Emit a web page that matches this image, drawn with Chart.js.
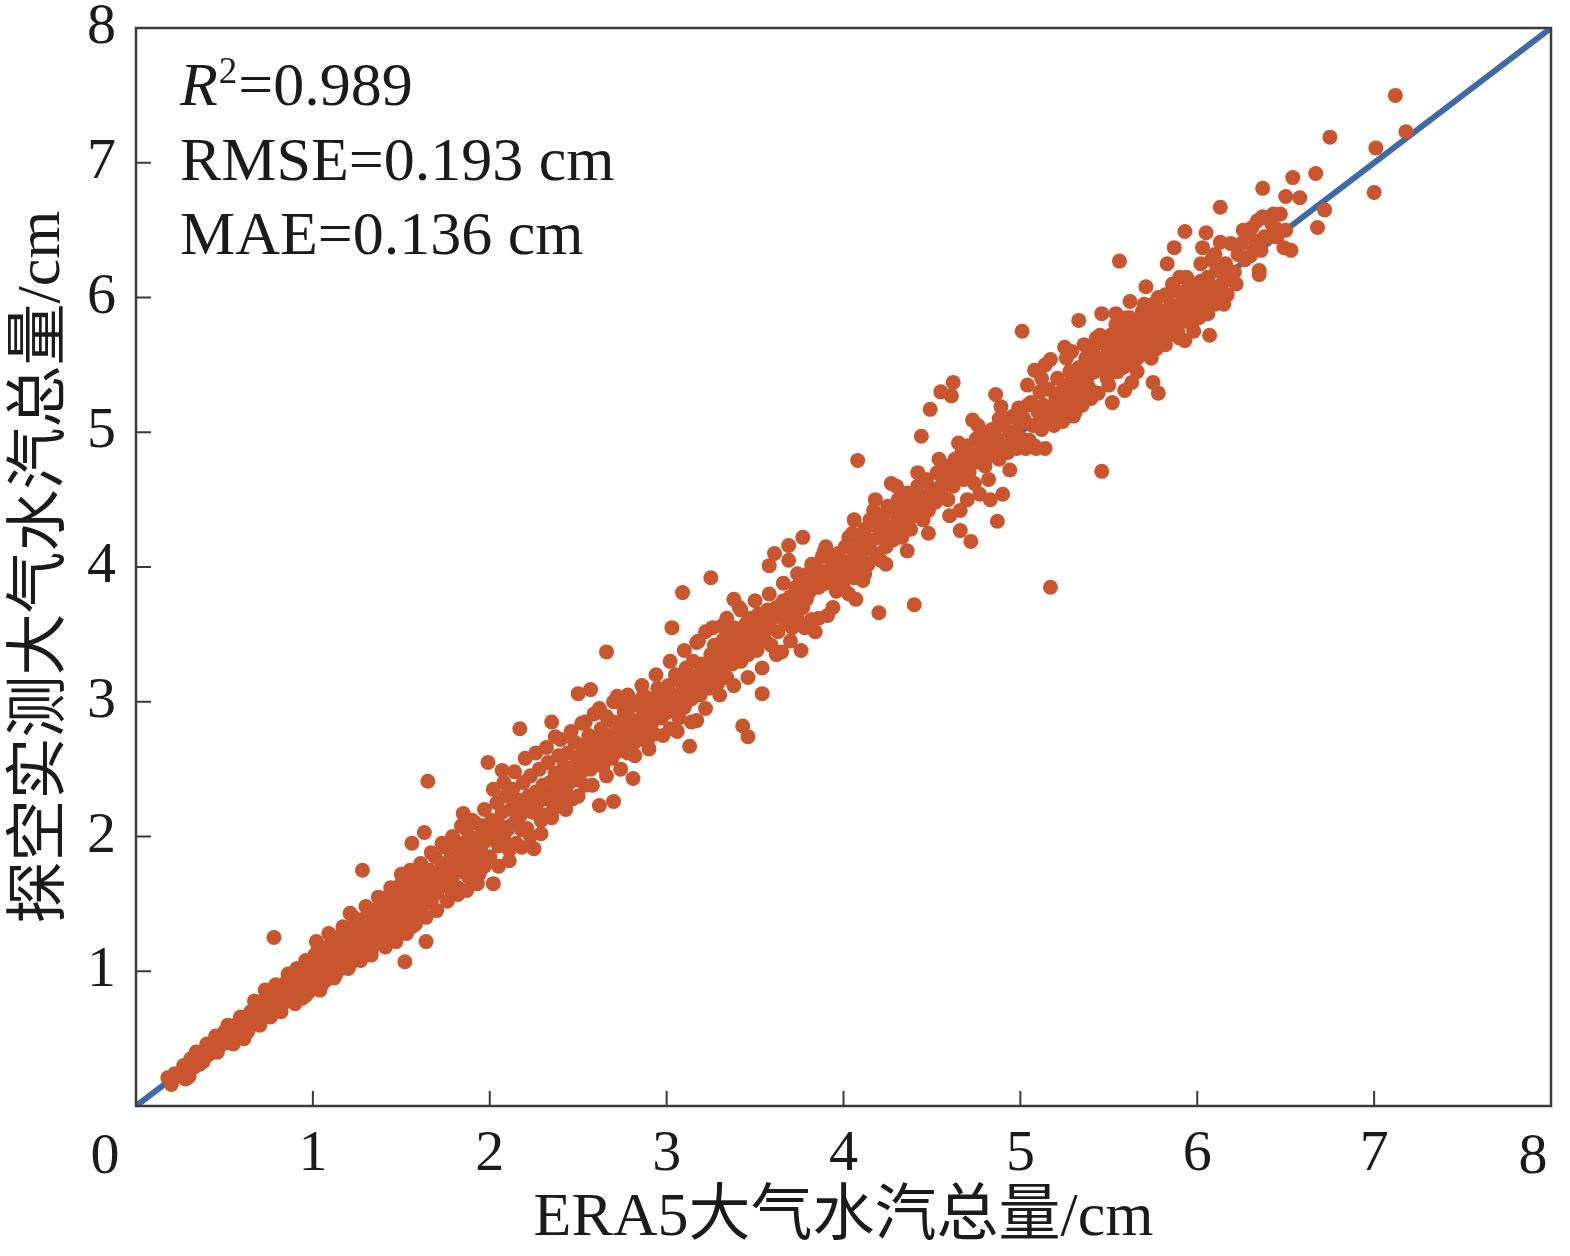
<!DOCTYPE html>
<html>
<head>
<meta charset="utf-8">
<script src="https://cdn.jsdelivr.net/npm/chart.js@4.4.1/dist/chart.umd.min.js"></script>
<style>
html,body{margin:0;padding:0;background:#fff;}
#c{display:block;}
</style>
</head>
<body>
<canvas id="c" width="1570" height="1256"></canvas>
<script>
// ---- axis / tick labels ----
const xTitle = 'ERA5大气水汽总量/cm';
const yTitle = '探空实测大气水汽总量/cm';
const tickValues = [0, 1, 2, 3, 4, 5, 6, 7, 8];
const statLines = ['=0.989', 'RMSE=0.193 cm', 'MAE=0.136 cm'];
const oneToOne = [[0, 0], [8, 8]];

// ---- observations [ERA5, radiosonde] in cm, grouped by ERA5 range ----
const seg0to1 = [[0.18,0.21],[0.2,0.16],[0.22,0.24],[0.25,0.22],[0.27,0.3],[0.28,0.2],[0.3,0.27],[0.31,0.35],[0.33,0.29],[0.35,0.37],[0.36,0.31],[0.38,0.33],[0.39,0.41],[0.41,0.38],[0.42,0.45],[0.44,0.4],[0.45,0.52],[0.47,0.44],[0.48,0.49],[0.5,0.55],[0.51,0.47],[0.53,0.57],[0.54,0.5],[0.56,0.6],[0.57,0.53],[0.58,0.56],[0.6,0.62],[0.61,0.5],[0.62,0.66],[0.64,0.58],[0.65,0.7],[0.66,0.63],[0.68,0.74],[0.69,0.66],[0.7,0.6],[0.72,0.78],[0.72,0.69],[0.74,0.83],[0.75,0.72],[0.76,0.66],[0.78,1.25],[0.78,0.8],[0.8,0.75],[0.81,0.86],[0.82,0.7],[0.84,0.82],[0.85,0.92],[0.86,0.78],[0.87,0.88],[0.88,0.95],[0.9,0.84],[0.9,0.76],[0.92,0.9],[0.93,1.0],[0.94,0.86],[0.95,0.94],[0.96,0.82],[0.97,1.02],[0.98,0.91],[0.99,0.97],
  [0.3,0.22],[0.34,0.4],[0.4,0.46],[0.46,0.4],[0.52,0.6],[0.55,0.46],[0.59,0.66],[0.63,0.55],[0.67,0.78],[0.71,0.64],[0.73,0.86],[0.77,0.7],[0.79,0.9],[0.83,0.76],[0.86,0.98],[0.89,0.8],[0.91,1.02],[0.94,0.8],[0.96,1.08],[0.98,0.85]];
const seg1to2 = [[1.0,1.05],[1.0,0.9],[1.01,1.12],[1.02,0.97],[1.03,1.18],[1.04,0.86],[1.05,1.0],[1.06,1.08],[1.07,0.93],[1.08,1.15],[1.09,1.03],[1.1,0.98],[1.1,1.2],[1.11,1.1],[1.12,0.95],[1.13,1.06],[1.14,1.25],[1.15,1.13],[1.16,1.02],[1.17,1.19],[1.18,1.09],[1.19,1.3],[1.2,1.16],[1.21,1.43],[1.21,1.05],[1.22,1.24],[1.23,1.12],[1.24,1.35],[1.25,1.2],[1.26,1.1],[1.27,1.28],[1.28,1.75],[1.28,1.38],[1.29,1.18],[1.3,1.31],[1.31,1.24],[1.32,1.45],[1.33,1.15],[1.34,1.36],[1.34,1.19],[1.35,1.29],[1.36,1.42],[1.37,1.25],[1.38,1.5],[1.39,1.33],[1.4,1.22],[1.41,1.4],[1.42,1.55],[1.43,1.3],[1.44,1.46],[1.45,1.37],[1.46,1.6],[1.47,1.26],[1.48,1.43],[1.49,1.52],[1.5,1.35],[1.5,1.65],[1.51,1.45],[1.52,1.07],[1.52,1.56],[1.53,1.4],[1.54,1.5],[1.55,1.62],[1.56,1.95],[1.56,1.33],[1.57,1.47],[1.58,1.58],[1.59,1.7],[1.6,1.44],[1.61,1.55],[1.62,1.65],[1.63,2.03],[1.63,1.5],[1.64,1.22],[1.65,2.41],[1.65,1.6],[1.66,1.75],[1.67,1.52],[1.68,1.68],[1.69,1.85],[1.7,1.58],[1.71,1.72],[1.72,1.63],[1.73,1.8],[1.74,1.68],[1.75,1.92],[1.76,1.75],[1.77,1.62],[1.78,1.84],[1.79,1.7],[1.8,1.95],[1.81,1.78],[1.82,1.57],[1.83,1.88],[1.84,1.74],[1.85,2.17],[1.85,1.95],[1.86,1.82],[1.87,2.05],[1.88,1.7],[1.89,1.9],[1.9,1.8],[1.91,1.98],[1.92,2.1],[1.93,1.65],[1.93,1.86],[1.94,2.0],[1.95,1.92],[1.96,2.08],[1.97,1.78],[1.98,1.97],[1.99,2.55],[1.99,2.05],[1.12,1.17],[1.18,1.22],[1.24,1.27],[1.3,1.4],[1.36,1.33],[1.42,1.42],[1.46,1.5],[1.52,1.48],[1.58,1.52],[1.62,1.6],[1.66,1.64],[1.7,1.66],[1.74,1.78],[1.78,1.76],[1.82,1.85],[1.86,1.88],[1.9,1.92],[1.95,1.98],[1.4,1.48],[1.44,1.38],[1.48,1.58],[1.54,1.42],[1.6,1.62],[1.26,1.32],[1.32,1.28],[1.16,1.26],[1.08,1.06],[1.34,1.44],[1.57,1.68],[1.68,1.6],
  [1.02,1.22],[1.05,0.9],[1.09,1.28],[1.13,0.98],[1.17,1.33],[1.2,1.02],[1.23,1.4],[1.27,1.08],[1.3,1.48],[1.33,1.12],[1.37,1.55],[1.41,1.18],[1.44,1.62],[1.47,1.22],[1.5,1.72],[1.53,1.28],[1.55,1.75],[1.58,1.35],[1.61,1.8],[1.64,1.4],[1.67,1.88],[1.7,1.45],[1.73,1.95],[1.76,1.52],[1.79,2.0],[1.82,1.62],[1.84,2.08],[1.87,1.6],[1.9,2.12],[1.94,1.72],[1.97,2.2],[1.22,1.18],[1.28,1.22],[1.38,1.38],[1.45,1.45],[1.5,1.5],[1.55,1.55],[1.64,1.7],[1.72,1.72],[1.8,1.82]];
const seg2to3 = [[2.0,1.85],[2.01,2.12],[2.02,1.65],[2.03,2.0],[2.04,2.25],[2.05,1.93],[2.06,2.08],[2.07,2.49],[2.07,2.18],[2.08,1.98],[2.09,2.3],[2.1,2.05],[2.11,1.9],[2.12,2.2],[2.13,2.35],[2.14,2.1],[2.15,1.95],[2.16,2.27],[2.17,2.8],[2.17,2.15],[2.18,1.92],[2.19,2.4],[2.2,2.22],[2.21,2.06],[2.22,2.3],[2.23,2.45],[2.24,2.18],[2.25,1.91],[2.26,2.33],[2.27,2.25],[2.28,2.5],[2.29,2.12],[2.3,2.38],[2.31,2.16],[2.32,2.28],[2.33,2.55],[2.34,2.4],[2.35,2.85],[2.35,2.14],[2.36,2.3],[2.37,2.74],[2.37,2.47],[2.38,2.36],[2.39,2.6],[2.4,2.25],[2.41,2.44],[2.42,2.52],[2.43,2.33],[2.44,2.62],[2.45,2.4],[2.46,2.5],[2.47,2.28],[2.48,2.7],[2.49,2.55],[2.5,3.06],[2.5,2.42],[2.51,2.6],[2.52,2.84],[2.52,2.48],[2.53,2.68],[2.54,2.38],[2.55,2.58],[2.56,2.75],[2.57,3.09],[2.57,2.5],[2.58,2.65],[2.59,2.91],[2.6,2.55],[2.61,2.72],[2.62,2.23],[2.62,2.6],[2.63,2.8],[2.64,2.52],[2.65,2.68],[2.66,3.37],[2.66,2.89],[2.67,2.62],[2.68,2.75],[2.69,2.58],[2.7,2.26],[2.7,2.85],[2.71,2.7],[2.72,3.04],[2.72,2.63],[2.73,2.78],[2.74,2.99],[2.75,2.85],[2.75,2.68],[2.76,2.92],[2.77,2.74],[2.78,2.62],[2.79,2.88],[2.8,2.97],[2.81,2.43],[2.81,2.8],[2.82,2.7],[2.83,3.0],[2.84,2.86],[2.85,2.75],[2.86,2.95],[2.87,3.05],[2.88,2.82],[2.89,2.7],[2.9,2.92],[2.91,3.02],[2.92,2.85],[2.93,2.76],[2.94,2.98],[2.95,3.1],[2.96,3.06],[2.97,2.88],[2.98,2.95],[2.99,3.0],
  [2.02,2.35],[2.05,1.78],[2.08,2.4],[2.11,1.82],[2.14,2.48],[2.18,2.05],[2.2,2.58],[2.23,2.0],[2.26,2.62],[2.29,2.02],[2.32,2.66],[2.36,2.2],[2.4,2.72],[2.43,2.2],[2.46,2.78],[2.5,2.3],[2.54,2.85],[2.58,2.38],[2.62,2.95],[2.66,2.45],[2.7,3.0],[2.74,2.5],[2.78,3.05],[2.82,2.6],[2.86,3.12],[2.9,2.65],[2.94,3.2],[2.98,2.75]];
const seg3to4 = [[3.0,2.92],[3.01,3.12],[3.02,2.8],[3.03,3.55],[3.03,3.05],[3.04,2.95],[3.05,3.2],[3.06,3.0],[3.07,2.88],[3.08,3.15],[3.09,3.81],[3.09,3.08],[3.1,2.96],[3.11,3.25],[3.12,3.1],[3.13,2.67],[3.13,3.18],[3.14,3.02],[3.15,3.3],[3.16,3.12],[3.17,2.86],[3.17,3.44],[3.18,3.2],[3.19,3.05],[3.2,3.28],[3.21,3.15],[3.22,3.52],[3.23,3.22],[3.24,3.1],[3.25,3.92],[3.25,3.35],[3.26,3.2],[3.27,3.42],[3.28,3.28],[3.29,3.14],[3.3,3.38],[3.31,3.56],[3.31,3.25],[3.32,3.46],[3.33,3.32],[3.34,3.18],[3.35,3.5],[3.36,3.4],[3.37,3.28],[3.38,3.76],[3.38,3.55],[3.39,3.36],[3.4,3.45],[3.41,3.7],[3.42,3.3],[3.43,2.82],[3.43,3.5],[3.44,3.4],[3.45,3.58],[3.46,2.74],[3.46,3.35],[3.47,3.48],[3.48,3.62],[3.49,3.42],[3.5,3.55],[3.51,3.38],[3.52,3.65],[3.53,3.5],[3.54,3.06],[3.55,3.6],[3.56,3.45],[3.57,3.68],[3.58,4.01],[3.58,3.55],[3.59,3.42],[3.6,3.62],[3.61,4.1],[3.62,3.7],[3.63,3.52],[3.64,3.65],[3.65,3.37],[3.66,3.75],[3.67,3.6],[3.68,3.68],[3.69,4.16],[3.69,4.05],[3.7,3.78],[3.71,3.55],[3.72,3.72],[3.73,3.85],[3.74,3.62],[3.75,3.8],[3.76,3.38],[3.77,4.22],[3.77,3.7],[3.78,3.88],[3.79,3.76],[3.8,3.95],[3.81,3.82],[3.82,3.61],[3.83,3.9],[3.84,3.52],[3.85,4.0],[3.86,3.85],[3.87,3.92],[3.88,4.08],[3.89,4.11],[3.9,3.88],[3.91,3.64],[3.92,3.98],[3.93,4.05],[3.94,3.9],[3.95,4.0],[3.96,3.82],[3.97,4.1],[3.98,3.95],[3.99,4.02],
  [3.02,3.3],[3.06,2.78],[3.1,3.38],[3.14,2.85],[3.18,3.45],[3.22,2.95],[3.26,3.55],[3.3,3.05],[3.34,3.62],[3.38,3.12],[3.42,3.68],[3.46,3.18],[3.5,3.75],[3.54,3.25],[3.58,3.8],[3.62,3.35],[3.66,3.88],[3.7,3.45],[3.74,3.95],[3.78,3.55],[3.82,4.02],[3.86,3.62],[3.9,4.15],[3.94,3.7]];
const seg4to5 = [[4.0,3.85],[4.01,4.15],[4.02,3.95],[4.03,4.22],[4.04,4.05],[4.05,4.25],[4.06,3.92],[4.07,3.76],[4.07,4.12],[4.08,4.79],[4.08,4.0],[4.09,4.2],[4.1,4.08],[4.11,3.9],[4.12,4.28],[4.13,4.15],[4.14,4.02],[4.15,4.35],[4.16,4.2],[4.17,4.42],[4.18,4.1],[4.19,4.3],[4.2,3.66],[4.2,4.22],[4.21,4.05],[4.22,4.38],[4.23,4.25],[4.24,4.15],[4.25,4.45],[4.26,4.3],[4.27,4.62],[4.28,4.2],[4.29,4.4],[4.3,4.28],[4.31,4.5],[4.32,4.35],[4.33,4.22],[4.34,4.45],[4.35,4.32],[4.36,4.55],[4.37,4.4],[4.38,4.28],[4.39,4.5],[4.4,3.72],[4.4,4.55],[4.41,4.38],[4.42,4.6],[4.43,4.45],[4.44,4.97],[4.45,4.35],[4.46,4.52],[4.47,4.65],[4.48,4.42],[4.49,5.17],[4.5,4.58],[4.52,4.48],[4.53,4.7],[4.55,5.3],[4.55,4.55],[4.56,4.62],[4.58,4.75],[4.59,4.5],[4.6,4.68],[4.61,5.27],[4.62,5.37],[4.62,4.6],[4.63,4.8],[4.64,4.72],[4.66,4.27],[4.66,4.42],[4.67,4.85],[4.68,4.65],[4.69,4.78],[4.7,4.9],[4.71,4.7],[4.72,4.19],[4.73,5.09],[4.73,4.82],[4.74,4.62],[4.75,4.95],[4.76,4.78],[4.77,4.54],[4.78,4.88],[4.79,5.0],[4.8,4.75],[4.81,4.92],[4.82,4.82],[4.83,4.5],[4.84,5.02],[4.85,4.88],[4.86,5.28],[4.87,4.34],[4.87,4.95],[4.88,4.8],[4.89,5.19],[4.9,4.54],[4.9,5.05],[4.91,4.9],[4.92,5.1],[4.93,4.85],[4.94,5.0],[4.95,4.92],[4.96,5.12],[4.97,4.98],[4.98,4.88],[4.99,5.18],[4.99,5.05],
  [4.03,3.8],[4.06,4.35],[4.12,3.95],[4.18,4.5],[4.24,4.02],[4.3,4.6],[4.36,4.12],[4.42,4.7],[4.48,4.25],[4.54,4.8],[4.6,4.38],[4.65,4.92],[4.7,4.5],[4.76,5.05],[4.82,4.65],[4.88,5.1],[4.94,4.72]];
const seg5to6 = [[5.01,5.75],[5.01,4.95],[5.02,5.1],[5.03,4.88],[5.04,5.2],[5.05,4.94],[5.06,5.22],[5.07,5.05],[5.08,5.46],[5.08,4.9],[5.09,4.88],[5.1,5.15],[5.11,5.3],[5.12,5.4],[5.12,5.02],[5.13,5.2],[5.14,4.88],[5.15,5.1],[5.16,5.32],[5.17,5.54],[5.17,3.85],[5.18,5.18],[5.19,5.05],[5.2,5.25],[5.21,5.4],[5.22,5.15],[5.23,5.3],[5.24,5.08],[5.25,5.63],[5.25,5.22],[5.26,5.35],[5.27,5.18],[5.28,5.45],[5.29,5.6],[5.29,5.28],[5.3,5.12],[5.31,5.38],[5.32,5.25],[5.33,5.83],[5.33,5.48],[5.34,5.3],[5.35,5.2],[5.36,5.42],[5.37,5.55],[5.38,5.35],[5.39,5.51],[5.4,5.25],[5.41,5.62],[5.42,5.45],[5.43,5.7],[5.44,5.29],[5.45,5.55],[5.46,5.88],[5.46,4.71],[5.47,5.48],[5.48,5.65],[5.49,5.4],[5.5,5.58],[5.51,5.72],[5.52,5.22],[5.52,5.5],[5.53,5.62],[5.54,5.8],[5.55,5.45],[5.56,6.27],[5.56,5.68],[5.57,5.55],[5.58,5.75],[5.59,5.31],[5.59,5.62],[5.6,5.85],[5.61,5.5],[5.62,5.97],[5.62,5.7],[5.63,5.37],[5.63,5.6],[5.64,5.78],[5.65,5.68],[5.66,5.55],[5.67,5.82],[5.68,5.65],[5.69,5.9],[5.7,5.72],[5.71,6.08],[5.71,5.58],[5.72,5.78],[5.73,5.68],[5.74,5.85],[5.75,5.37],[5.75,5.95],[5.76,5.75],[5.77,5.62],[5.78,5.29],[5.78,5.82],[5.79,5.7],[5.8,5.9],[5.81,5.78],[5.82,6.02],[5.83,6.25],[5.83,5.85],[5.84,5.72],[5.85,5.95],[5.86,5.8],[5.87,6.37],[5.87,5.88],[5.88,6.05],[5.89,5.75],[5.9,6.15],[5.9,5.92],[5.91,5.82],[5.92,6.0],[5.93,6.49],[5.93,5.68],[5.94,5.88],[5.95,6.07],[5.96,5.95],[5.97,5.8],[5.98,6.1],[5.99,5.9],
  [5.04,5.35],[5.09,5.05],[5.14,5.5],[5.2,5.1],[5.26,5.55],[5.31,5.15],[5.36,5.65],[5.41,5.3],[5.45,5.72],[5.5,5.35],[5.54,5.88],[5.58,5.48],[5.62,5.85],[5.66,5.45],[5.7,5.95],[5.74,5.55],[5.78,6.0],[5.82,5.65],[5.86,6.1],[5.9,5.7],[5.94,6.15],[5.98,5.75],[5.6,5.66],[5.65,5.72],[5.7,5.8],[5.8,5.8],[5.85,5.86],[5.75,5.7]];
const seg6to7 = [[6.0,6.02],[6.01,5.85],[6.02,6.12],[6.03,6.37],[6.03,5.95],[6.04,6.05],[6.05,6.48],[6.05,5.9],[6.06,6.15],[6.07,5.72],[6.07,6.0],[6.08,6.28],[6.09,6.08],[6.1,5.95],[6.11,6.2],[6.12,6.05],[6.13,6.67],[6.13,6.41],[6.14,5.98],[6.15,6.12],[6.16,6.25],[6.17,6.02],[6.18,6.18],[6.21,6.19],[6.23,6.32],[6.25,6.4],[6.27,6.28],[6.29,6.48],[6.3,6.31],[6.31,6.52],[6.33,6.42],[6.34,6.57],[6.35,6.2],[6.35,6.17],[6.36,6.35],[6.37,6.6],[6.37,6.81],[6.4,6.45],[6.42,6.55],[6.44,6.52],[6.45,6.45],[6.47,6.62],[6.49,6.37],[6.5,6.75],[6.53,6.35],[6.54,6.89],[6.58,6.74],[6.67,6.92],[6.68,6.52],[6.72,6.65],[6.75,7.19],
  [6.02,6.25],[6.06,5.88],[6.1,6.32],[6.15,5.95],[6.19,6.4],[6.22,6.1],[6.26,6.5],[6.32,6.35],[6.38,6.45],[6.43,6.62],[6.5,6.5]];
const seg7to8 = [[7.0,6.78],[7.01,7.11],[7.12,7.5],[7.18,7.23]];

const allSegments = [seg0to1, seg1to2, seg2to3, seg3to4, seg4to5, seg5to6, seg6to7, seg7to8];
const points = [];
allSegments.forEach(seg => seg.forEach(p => points.push({ x: p[0], y: p[1] })));
const linePts = oneToOne.map(p => ({ x: p[0], y: p[1] }));

const SERIF = '"Liberation Serif", "Times New Roman", "Noto Sans CJK SC", serif';
const INK = '#1b1b1b';

const framePlugin = {
  id: 'frameAndText',
  afterDraw(chart) {
    const { ctx, chartArea: a, scales: { x, y } } = chart;
    ctx.save();
    // frame
    ctx.strokeStyle = '#3a3a3a';
    ctx.lineWidth = 2.5;
    ctx.strokeRect(a.left, a.top, a.right - a.left, a.bottom - a.top);
    // inward ticks
    ctx.lineWidth = 2;
    ctx.beginPath();
    tickValues.forEach(v => {
      if (v > 0 && v < 8) {
        const px = x.getPixelForValue(v);
        ctx.moveTo(px, a.bottom); ctx.lineTo(px, a.bottom - 15);
        const py = y.getPixelForValue(v);
        ctx.moveTo(a.left, py); ctx.lineTo(a.left + 15, py);
      }
    });
    ctx.stroke();
    // corner tick labels 0 and 8 on x axis
    ctx.fillStyle = INK;
    ctx.font = '58px ' + SERIF;
    ctx.textAlign = 'center';
    ctx.textBaseline = 'alphabetic';
    ctx.fillText(String(tickValues[0]), x.getPixelForValue(tickValues[0]) - 31, a.bottom + 67);
    ctx.fillText(String(tickValues[8]), x.getPixelForValue(tickValues[8]) - 18, a.bottom + 67);
    // statistics text
    ctx.textAlign = 'left';
    const lx = a.left + 44;
    ctx.font = 'italic 62px ' + SERIF;
    ctx.fillText('R', lx, a.top + 77);
    const rw = ctx.measureText('R').width;
    ctx.font = '37px ' + SERIF;
    ctx.fillText('2', lx + rw + 1, a.top + 55);
    const sw = ctx.measureText('2').width;
    ctx.font = '62px ' + SERIF;
    ctx.fillText(statLines[0], lx + rw + sw + 2, a.top + 77);
    ctx.fillText(statLines[1], lx, a.top + 152);
    ctx.fillText(statLines[2], lx, a.top + 226);
    ctx.restore();
  }
};

new Chart(document.getElementById('c'), {
  type: 'scatter',
  data: {
    datasets: [
      { type: 'line', data: linePts, borderColor: '#3F6AA8', borderWidth: 6, pointRadius: 0, fill: false, order: 2 },
      { type: 'scatter', data: points, backgroundColor: '#C9552E', borderWidth: 0, pointRadius: 7.5, pointHoverRadius: 7.5, order: 1 }
    ]
  },
  options: {
    responsive: false,
    animation: false,
    devicePixelRatio: 1,
    layout: { padding: { top: 28, right: 19, left: 0, bottom: 0 }, autoPadding: false },
    plugins: { legend: { display: false }, tooltip: { enabled: false } },
    scales: {
      x: {
        type: 'linear', min: 0, max: 8,
        afterBuildTicks(s) { s.ticks = tickValues.map(v => ({ value: v })); },
        afterFit(s) { s.height = 150; s.paddingLeft = 0; s.paddingRight = 0; s.paddingTop = 0; s.paddingBottom = 0; },
        grid: { display: false, drawTicks: false },
        border: { display: false },
        ticks: {
          color: INK, padding: 14,
          font: { family: SERIF, size: 58 },
          callback: v => (v === 0 || v === 8) ? '' : String(v),
          maxRotation: 0, autoSkip: false
        },
        title: { display: true, text: xTitle, color: INK, font: { family: SERIF, size: 62 }, padding: 0 }
      },
      y: {
        type: 'linear', min: 0, max: 8,
        afterBuildTicks(s) { s.ticks = tickValues.map(v => ({ value: v })); },
        afterFit(s) { s.width = 136; s.paddingLeft = 0; s.paddingRight = 0; s.paddingTop = 0; s.paddingBottom = 0; },
        grid: { display: false, drawTicks: false },
        border: { display: false },
        ticks: {
          color: INK, padding: 20,
          font: { family: SERIF, size: 58 },
          callback: v => v === 0 ? '' : String(v),
          autoSkip: false
        },
        title: { display: true, text: yTitle, color: INK, font: { family: SERIF, size: 62 }, padding: { top: 6, bottom: 0 } }
      }
    }
  },
  plugins: [framePlugin]
});
</script>
</body>
</html>
